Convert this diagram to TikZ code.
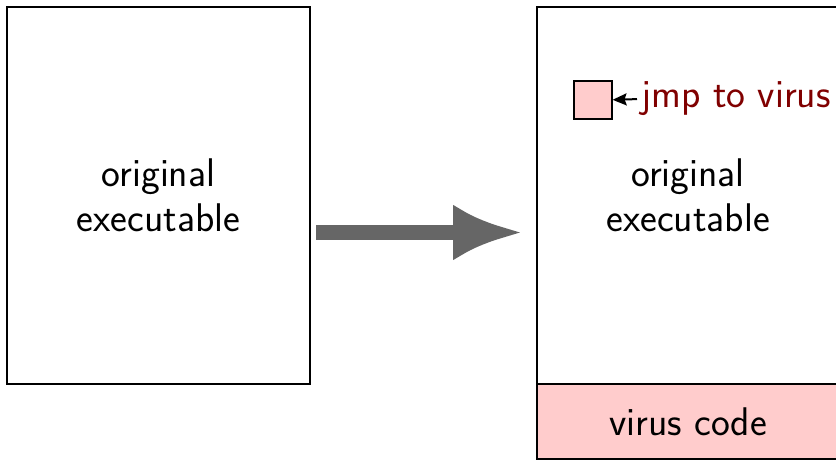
\documentclass[tikz,border=0pt]{standalone}
\usetikzlibrary{arrows.meta,positioning}
\definecolor{viruspink}{HTML}{FFCCCC}
\definecolor{virusred}{HTML}{800000}
\tikzset{
  px/.style={x=0.5pt,y=-0.5pt},
  bigfont/.style={font=\sffamily\fontsize{20}{22.5}\selectfont},
  filebox/.style={draw=black,line width=1pt,inner sep=0pt,align=center,bigfont},
  patchbox/.style={draw=black,line width=0.8pt,fill=viruspink,inner sep=0pt},
  bigarrow/.style={draw=black!60,line width=7.5pt,
    -{Latex[length=35pt,width=28pt]}},
  label/.style={bigfont,text=virusred,inner sep=0pt},
  pointer/.style={line width=1pt,-{Stealth[length=7pt,width=6pt,inset=1pt]}},
}
\begin{document}
\begin{tikzpicture}[px]
  \useasboundingbox (0,0) rectangle (836,460);
  % original file
  \node[filebox,minimum width=151.5pt,minimum height=188.5pt,anchor=north west]
    (orig) at (6,6) {original\\executable};
  % infected file: original part plus appended virus code
  \node[filebox,fill=viruspink,minimum width=151pt,minimum height=37.5pt,anchor=north west]
    (virus) at (536,383) {virus code};
  \node[filebox,minimum width=151pt,minimum height=188.5pt,anchor=north west]
    (infected) at (536,6) {original\\executable};
  % patched entry jump
  \node[patchbox,minimum size=19pt,anchor=north west] (jmp) at (573,80) {};
  \node[label,anchor=west] (jmplabel) at (641,99) {jmp to virus};
  \draw[pointer,shorten <=2pt] (jmplabel.west) -- (jmp.east);
  % transformation arrow
  \coordinate (a0) at (316,232.5);
  \coordinate (a1) at (523,232.5);
  \draw[bigarrow] (a0) -- (a1);
\end{tikzpicture}
\end{document}
